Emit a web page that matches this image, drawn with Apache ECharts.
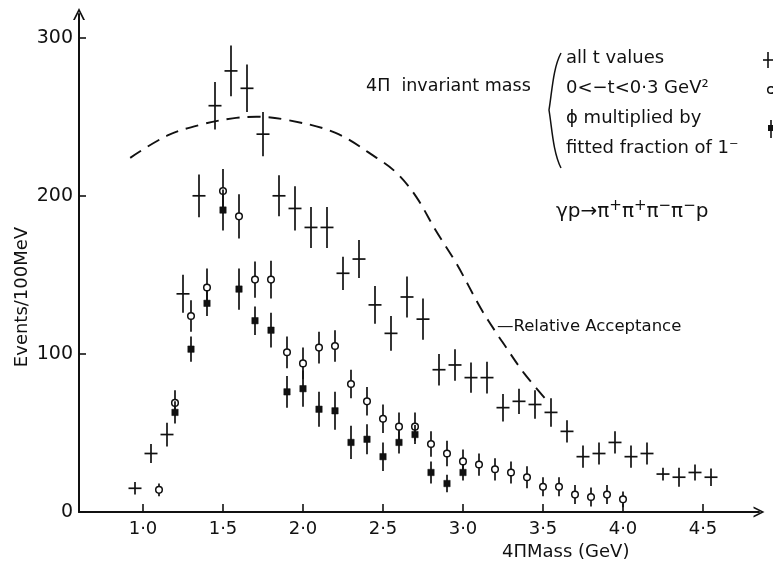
<!DOCTYPE html>
<html>
<head>
<meta charset="utf-8">
<script src="https://cdn.jsdelivr.net/npm/echarts@6/dist/echarts.min.js"></script>
<style>
html,body{margin:0;padding:0;background:#fff;}
#chart{width:773px;height:567px;}
</style>
</head>
<body>
<div id="chart"></div>
<script>
// ---- data ----
// all t values (crosses)
const crossMass = [0.95,1.05,1.15,1.25,1.35,1.45,1.55,1.65,1.75,1.85,1.95,2.05,2.15,2.25,2.35,2.45,2.55,2.65,2.75,2.85,2.95,3.05,3.15,3.25,3.35,3.45,3.55,3.65,3.75,3.85,3.95,4.05,4.15,4.25,4.35,4.45,4.55];
const crossEvents = [15,37,49,138,200,257,279,268,239,200,192,180,180,151,160,131,113,136,122,90,93,85,85,66,70,68,63,51,35,37,44,35,37,24,22,25,22];
const crossErr = [4,6,7.5,12,13.5,15,16,15,14,13,14,13,13,10.5,12,12,11,13,13,10,10,9.5,10,8.7,8,9,9,7,7,7,7,7,7,4,6,5,5.5];
// 0 < -t < 0.3 GeV^2 (open circles)
const circleMass = [1.1,1.2,1.3,1.4,1.5,1.6,1.7,1.8,1.9,2.0,2.1,2.2,2.3,2.4,2.5,2.6,2.7,2.8,2.9,3.0,3.1,3.2,3.3,3.4,3.5,3.6,3.7,3.8,3.9,4.0];
const circleEvents = [14,69,124,142,203,187,147,147,101,94,104,105,81,70,59,54,54,43,37,32,30,27,25,22,16,16,11,9.5,11,8];
const circleErr = [4,8,10,12,14,14,11.5,12,10,10,10,10,9,9,9,9,9,8,8,7.5,7,7,7,7,6,6,6,6,6,5];
// circles multiplied by fitted fraction of 1- (filled squares)
const squareMass = [1.2,1.3,1.4,1.5,1.6,1.7,1.8,1.9,2.0,2.1,2.2,2.3,2.4,2.5,2.6,2.7,2.8,2.9,3.0];
const squareEvents = [63,103,132,191,141,121,115,76,78,65,64,44,46,35,44,49,25,18,25];
const squareErr = [7,8,8,13,13,9,11,10,11.5,11,12,10.5,9.5,9,7,6,7,5.5,5];
// relative acceptance (dashed curve, in plot units)
const accMass = [0.92,1.15,1.36,1.56,1.71,1.9,2.2,2.46,2.59,2.71,2.83,2.96,3.11,3.21,3.25,3.38,3.52];
const accValue = [224,238,245,249,250,248,240,224,214,199,178,157,129,113,107,88,71];
// ticks
const xTicks = [1.0,1.5,2.0,2.5,3.0,3.5,4.0,4.5];
const yTicks = [0,100,200,300];

const FONT = 'DejaVu Sans';
const zip3 = (a,b,c) => a.map((v,i)=>[v,b[i],c[i]]);
const chevron = 'path://M5,0 L10,10 L8.4,10 L5,3.2 L1.6,10 L0,10 Z';

function errRender(kind){
  return function(params, api){
    const x = api.value(0), y = api.value(1), e = api.value(2);
    const c = api.coord([x,y]);
    const t = api.coord([x,y+e]);
    const b = api.coord([x,Math.max(0,y-e)]);
    const ch = [{type:'line', shape:{x1:c[0],y1:t[1],x2:c[0],y2:b[1]}, style:{stroke:'#111',lineWidth:1.7}}];
    if(kind==='cross'){
      ch.push({type:'line', shape:{x1:c[0]-6.5,y1:c[1],x2:c[0]+6.5,y2:c[1]}, style:{stroke:'#111',lineWidth:1.7}});
    } else if(kind==='circle'){
      ch.push({type:'circle', shape:{cx:c[0],cy:c[1],r:3.3}, style:{fill:'#fff',stroke:'#111',lineWidth:1.5}});
    } else {
      ch.push({type:'rect', shape:{x:c[0]-3.2,y:c[1]-3.2,width:6.4,height:6.4}, style:{fill:'#111',stroke:'#111',lineWidth:0.5}});
    }
    return {type:'group', children: ch};
  };
}

const chart = echarts.init(document.getElementById('chart'), null, {renderer:'canvas'});
const txt = (x,y,text,size,opt) => ({type:'text', x:x, y:y, style:Object.assign({text:text, fill:'#111', font:size+'px "'+FONT+'"', verticalAlign:'middle'}, opt||{})});

chart.setOption({
  animation:false,
  backgroundColor:'#fff',
  grid:{left:79, right:14, top:14, bottom:55, containLabel:false},
  xAxis:{
    type:'value', min:0.6, max:4.85,
    axisLine:{show:true, onZero:false, lineStyle:{color:'#111', width:2}, symbol:['none', chevron], symbolSize:[11,13]},
    axisTick:{show:true, inside:true, length:8, lineStyle:{color:'#111', width:1.6}, customValues: xTicks},
    axisLabel:{color:'#111', fontFamily:FONT, fontSize:18, margin:8, customValues: xTicks, formatter: v => v.toFixed(1).replace('.','·')},
    splitLine:{show:false}
  },
  yAxis:{
    type:'value', min:0, max:315,
    axisLine:{show:true, onZero:false, lineStyle:{color:'#111', width:2}, symbol:['none', chevron], symbolSize:[12,13]},
    axisTick:{show:true, inside:true, length:7, lineStyle:{color:'#111', width:1.6}, customValues: yTicks},
    axisLabel:{color:'#111', fontFamily:FONT, fontSize:19, margin:6, customValues: yTicks},
    splitLine:{show:false}
  },
  series:[
    {type:'line', data: accMass.map((m,i)=>[m,accValue[i]]), smooth:0.35, symbol:'none',
     lineStyle:{color:'#111', width:1.9, type:[13,8]}, z:1},
    {type:'custom', renderItem: errRender('cross'), data: zip3(crossMass,crossEvents,crossErr), z:3},
    {type:'custom', renderItem: errRender('circle'), data: zip3(circleMass,circleEvents,circleErr), z:4},
    {type:'custom', renderItem: errRender('square'), data: zip3(squareMass,squareEvents,squareErr), z:5}
  ],
  graphic:[
    {type:'text', x:22, y:297, rotation:Math.PI/2, style:{text:'Events/100MeV', fill:'#111', font:'18px "'+FONT+'"', align:'center', verticalAlign:'middle'}},
    txt(366, 86, '4Π  invariant mass', 17.5),
    {type:'bezierCurve', shape:{x1:561,y1:53,cpx1:553,cpy1:68,cpx2:552,cpy2:92,x2:549,y2:110}, style:{stroke:'#111', lineWidth:1.5, fill:null}},
    {type:'bezierCurve', shape:{x1:549,y1:110,cpx1:552,cpy1:128,cpx2:553,cpy2:152,x2:561,y2:168}, style:{stroke:'#111', lineWidth:1.5, fill:null}},
    txt(566, 58, 'all t values', 18),
    txt(566, 88, '0<−t<0·3 GeV²', 18),
    txt(566, 118, 'ϕ multiplied by', 18),
    txt(566, 148, 'fitted fraction of 1⁻', 18),
    {type:'text', x:556, y:212, style:{
      text:'γp→π{s|+}π{s|+}π{s|−}π{s|−}p', fill:'#111', font:'20px "'+FONT+'"', verticalAlign:'middle',
      rich:{s:{fontSize:15, fontFamily:FONT, verticalAlign:'top', padding:[0,0,12,0]}}
    }},
    txt(497, 327, '—Relative Acceptance', 16.5),
    txt(502, 552, '4ΠMass (GeV)', 18),
    // legend symbols cut at the right edge
    {type:'line', shape:{x1:768,y1:52,x2:768,y2:68}, style:{stroke:'#111',lineWidth:1.6}},
    {type:'line', shape:{x1:763,y1:60,x2:773,y2:60}, style:{stroke:'#111',lineWidth:1.6}},
    {type:'circle', shape:{cx:771,cy:90,r:3.3}, style:{fill:'#fff',stroke:'#111',lineWidth:1.5}},
    {type:'line', shape:{x1:771,y1:120,x2:771,y2:138}, style:{stroke:'#111',lineWidth:1.6}},
    {type:'rect', shape:{x:768,y:125,width:6,height:6}, style:{fill:'#111'}}
  ]
});
</script>
</body>
</html>
